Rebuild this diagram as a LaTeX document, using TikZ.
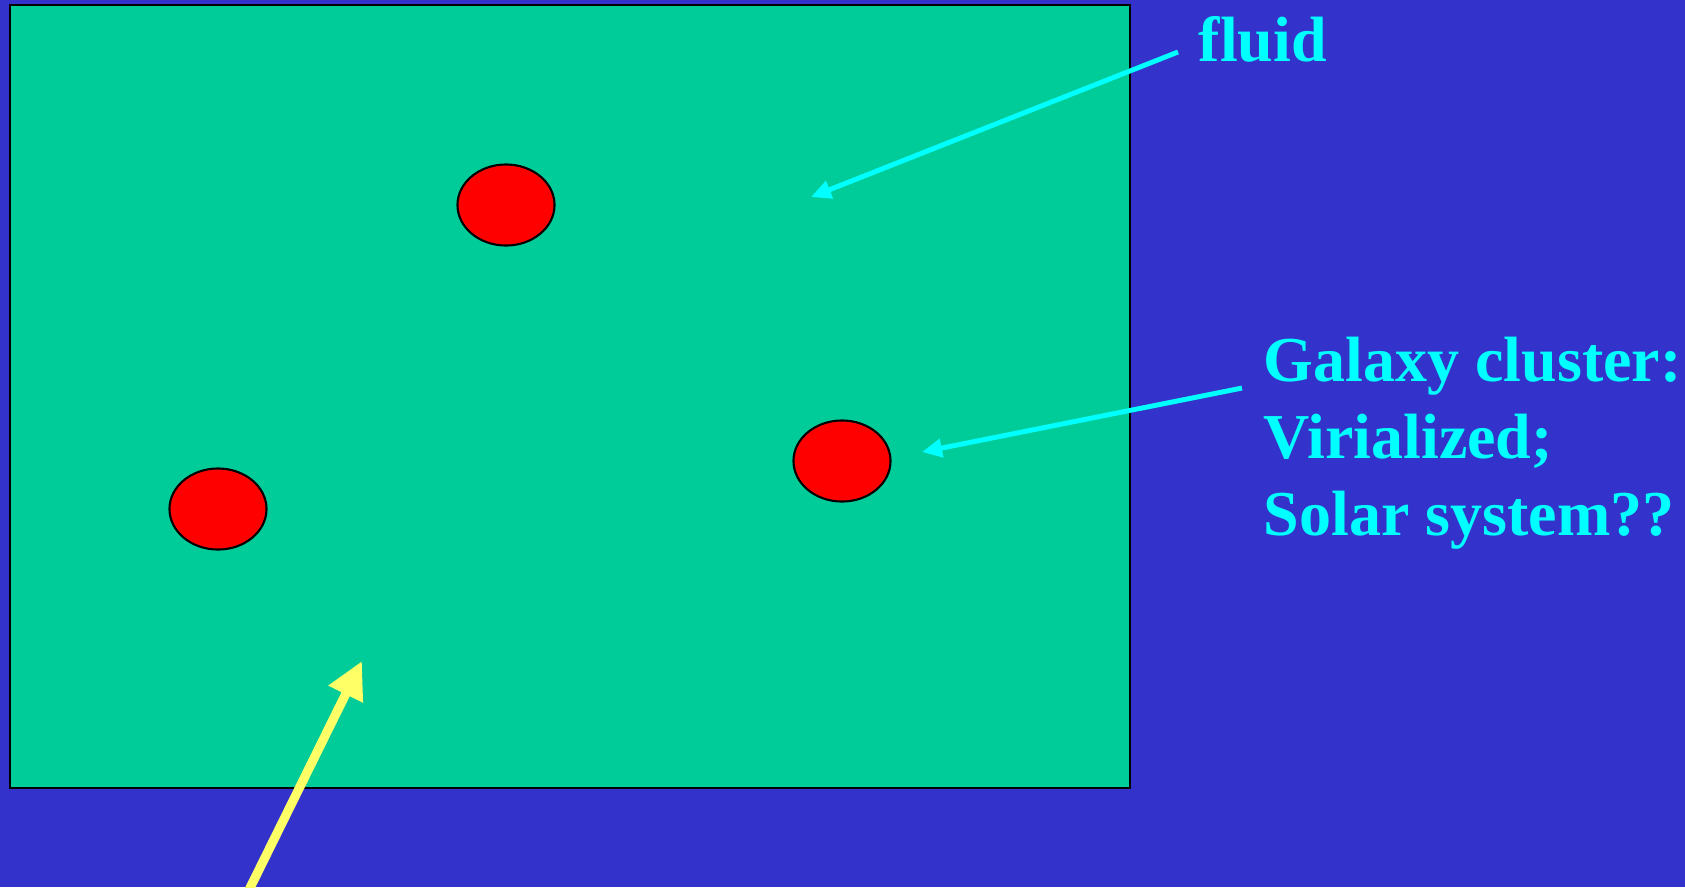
\documentclass[tikz,border=0pt]{standalone}
\usepackage{fontspec}
\setmainfont{Liberation Serif}
\usetikzlibrary{arrows.meta, shapes.geometric}
\definecolor{slidebg}{HTML}{3333CC}
\definecolor{fluidgreen}{HTML}{00CC99}
\definecolor{labelcyan}{HTML}{00FFFF}
\definecolor{pointyellow}{HTML}{FFFF66}

\begin{document}
\begin{tikzpicture}[x=0.01cm, y=-0.01cm,
  blob/.style={ellipse, draw=black, line width=0.6pt, fill=red, minimum width=0.97cm, minimum height=0.81cm, inner sep=0pt},
  lbl/.style={text=labelcyan, font=\fontsize{18.2}{22}\selectfont\bfseries, inner sep=0pt},
  cyanarrow/.style={labelcyan, line width=1.4pt, -{Triangle[length=0.2cm, width=0.18cm]}},
  yellowarrow/.style={pointyellow, line width=2.6pt, -{Triangle[length=0.37cm, width=0.36cm]}}]
  % background and box
  \useasboundingbox (0,0) rectangle (1685,887);
  \fill[slidebg] (0,0) rectangle (1685,887);
  \clip (0,0) rectangle (1685,887);
  \draw[fill=fluidgreen, line width=0.8pt] (10,5) rectangle (1130,788);
  % clusters
  \node[blob] (c1) at (506,205) {};
  \node[blob] (c2) at (842,461) {};
  \node[blob] (c3) at (218,509) {};
  % labels
  \node[lbl, anchor=base west] (fluid) at (1198,61) {fluid};
  \node[lbl, anchor=north west, align=left] (galaxy) at (1263,336) {Galaxy cluster:\\Virialized;\\Solar system??};
  % arrows
  \coordinate (fluidtip) at (811,197);
  \coordinate (galaxytip) at (922,452);
  \coordinate (yellowtip) at (362,661);
  \coordinate (yellowtail) at (248,892);
  \draw[cyanarrow] ([xshift=-0.2cm,yshift=0.09cm]fluid.base west) -- (fluidtip);
  \draw[cyanarrow] ([xshift=-0.21cm,yshift=-0.52cm]galaxy.north west) -- (galaxytip);
  \draw[yellowarrow] (yellowtail) -- (yellowtip);
\end{tikzpicture}
\end{document}
